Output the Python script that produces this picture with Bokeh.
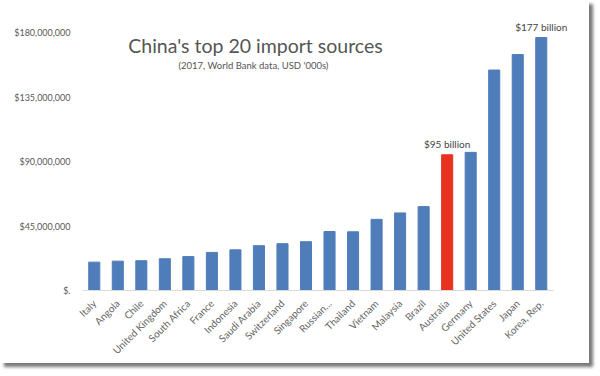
import math
from bokeh.plotting import figure
from bokeh.models import ColumnDataSource, FixedTicker, Label, Range1d
from bokeh.embed import file_html
from bokeh.resources import INLINE

countries = ["Italy", "Angola", "Chile", "United Kingdom", "South Africa", "France",
             "Indonesia", "Saudi Arabia", "Switzerland", "Singapore", "Russian\u2026",
             "Thailand", "Vietnam", "Malaysia", "Brazil", "Australia", "Germany",
             "United States", "Japan", "Korea, Rep."]
imports = [19.8e6, 20.5e6, 20.8e6, 22.2e6, 23.7e6, 26.6e6,
           28.4e6, 31.3e6, 32.7e6, 34.1e6, 41.2e6,
           41.0e6, 49.7e6, 54.2e6, 58.6e6, 94.8e6, 96.5e6,
           154.0e6, 164.8e6, 176.7e6]
highlight = "Australia"

y_ticks = [0, 45000000, 90000000, 135000000, 180000000]
y_tick_labels = ["$.", "$45,000,000", "$90,000,000", "$135,000,000", "$180,000,000"]

ann_countries = ["Australia", "Korea, Rep."]
ann_texts = ["$95 billion", "$177 billion"]

title_text = "China's top 20 import sources"
subtitle_text = "(2017, World Bank data, USD '000s)"

BLUE = "#4F7DBA"
RED = "#E8321F"
FONT = "Lato"

n = len(countries)
idx = list(range(n))
colors = [RED if c == highlight else BLUE for c in countries]
src = ColumnDataSource(dict(x=idx, country=countries, value=imports, color=colors))

p = figure(x_range=Range1d(-0.5, n + 0.2), y_range=(0, 190000000), width=589, height=363,
           output_backend="svg", toolbar_location=None,
           min_border_left=82, min_border_right=20, min_border_top=18, min_border_bottom=69,
           styles={"box-shadow": "4px 4px 3px #7a7a7a"})
p.vbar(x="x", top="value", width=0.47, color="color", source=src)

for c, t in zip(ann_countries, ann_texts):
    i = countries.index(c)
    p.add_layout(Label(x=i, y=imports[i], text=t,
                       text_align="center", text_baseline="bottom", y_offset=5,
                       text_font=FONT, text_font_size="10px", text_color="#444444"))

p.add_layout(Label(x=173, y=245, x_units="screen", y_units="screen", text=title_text,
                   text_align="center", text_baseline="middle", text_font=FONT,
                   text_font_size="19.5px", text_color="#555555"))
p.add_layout(Label(x=171, y=225, x_units="screen", y_units="screen", text=subtitle_text,
                   text_align="center", text_baseline="middle", text_font=FONT,
                   text_font_size="9.5px", text_color="#555555"))

p.outline_line_color = None
p.grid.visible = False
p.background_fill_color = "white"
p.border_fill_color = "white"

p.yaxis.ticker = FixedTicker(ticks=y_ticks)
p.yaxis.major_label_overrides = dict(zip(y_ticks, y_tick_labels))
p.yaxis.axis_line_color = None
p.yaxis.major_tick_line_color = None
p.yaxis.minor_tick_line_color = None
p.yaxis.major_label_text_font = FONT
p.yaxis.major_label_text_font_size = "9px"
p.yaxis.major_label_text_color = "#595959"
p.yaxis.major_label_standoff = 6

p.xaxis.ticker = FixedTicker(ticks=idx)
p.xaxis.major_label_overrides = dict(zip(idx, countries))
p.xaxis.bounds = (-0.5, n - 0.5)
p.xaxis.axis_line_color = "#d9d9d9"
p.xaxis.axis_line_width = 1
p.xaxis.major_tick_line_color = None
p.xaxis.minor_tick_line_color = None
p.xaxis.major_label_orientation = math.pi / 4
p.xaxis.major_label_text_font = FONT
p.xaxis.major_label_text_font_size = "10px"
p.xaxis.major_label_text_color = "#666666"
p.xaxis.major_label_standoff = 5

open("out.html", "w").write(file_html(p, INLINE))
